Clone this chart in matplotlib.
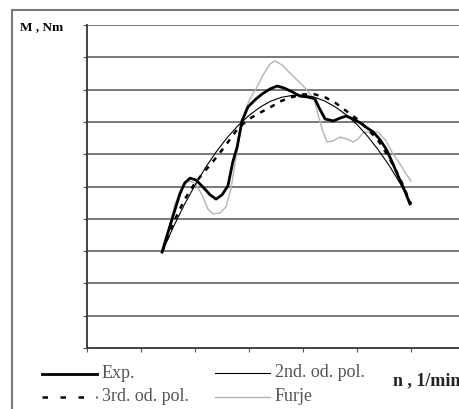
import matplotlib
matplotlib.use("Agg")
import matplotlib.pyplot as plt
from matplotlib.patches import Rectangle
from matplotlib.lines import Line2D

plt.rcParams['font.family'] = ['Liberation Serif', 'DejaVu Serif']

# measured torque (Exp.)
n_exp = [695, 740, 785, 860, 905, 955, 1010, 1075, 1140, 1195, 1250, 1305, 1350,
         1390, 1435, 1490, 1555, 1620, 1695, 1760, 1825, 1900, 1970, 2045, 2110,
         2155, 2205, 2280, 2345, 2400, 2465, 2530, 2595, 2650, 2715, 2770, 2825,
         2880, 2935, 2990]
m_exp = [29.7, 34.7, 39.6, 47.7, 51.1, 52.6, 52.0, 49.8, 47.4, 46.1, 47.4, 50.2,
         57.6, 62.2, 70.3, 74.6, 76.8, 78.6, 80.2, 81.1, 80.5, 79.3, 78.0, 77.7,
         77.1, 74.0, 70.9, 70.3, 71.2, 71.8, 70.9, 69.7, 68.1, 66.9, 64.4, 61.6,
         57.6, 53.3, 49.2, 44.6]

# polynomial approximations
n_pol = [700, 800, 900, 1000, 1100, 1200, 1300, 1400, 1500, 1600, 1700, 1800,
         1900, 2000, 2100, 2200, 2300, 2400, 2500, 2600, 2700, 2800, 2900, 3000]
m_pol2 = [30.1, 37.5, 44.3, 50.4, 56.0, 60.9, 65.2, 68.9, 72.0, 74.5, 76.4, 77.6,
          78.2, 78.3, 77.7, 76.5, 74.6, 72.2, 69.2, 65.5, 61.2, 56.4, 50.9, 44.8]
m_pol3 = [30.0, 38.7, 45.8, 51.1, 55.1, 59.1, 63.5, 68.1, 70.9, 72.8, 74.6, 76.5,
          77.7, 78.5, 78.6, 77.7, 75.9, 73.4, 70.9, 67.8, 64.1, 58.8, 52.3, 44.6]

# Fourier approximation (Furje)
n_fur = [694, 750, 815, 880, 935, 1000, 1065, 1120, 1167, 1231, 1287, 1333, 1370,
         1417, 1463, 1509, 1574, 1630, 1694, 1741, 1806, 1880, 1954, 2028, 2102,
         2139, 2176, 2222, 2278, 2343, 2407, 2463, 2509, 2556, 2620, 2694, 2769,
         2833, 2898, 2954, 3000]
m_fur = [29.7, 36.2, 44.6, 49.8, 51.7, 51.1, 47.4, 43.0, 41.5, 41.8, 43.7, 49.2,
         57.0, 66.3, 73.4, 77.1, 80.8, 84.5, 87.9, 88.9, 87.6, 85.1, 82.7, 80.2,
         77.1, 72.4, 67.8, 63.8, 64.1, 65.3, 64.7, 63.8, 64.7, 66.6, 66.9, 66.9,
         64.1, 60.1, 57.0, 53.9, 51.7]

x_ticks = [0, 500, 1000, 1500, 2000, 2500, 3000, 3500]
y_ticks = [0, 10, 20, 30, 40, 50, 60, 70, 80, 90, 100]
labels = ['Exp.', '3rd. od. pol.', '2nd. od. pol.', 'Furje']

W, H = 459, 410
fig = plt.figure(figsize=(W / 100, H / 100), dpi=100)

# outer frame (cropped on the right and bottom)
fig.patches.append(Rectangle((12 / W, -0.2), 1.2, 1.2 - 11 / H,
                             transform=fig.transFigure, fill=False,
                             edgecolor='#7a7a7a', linewidth=1.5))

ax = fig.add_axes([87 / W, 61 / H, 378 / W, 323 / H])
ax.set_xlim(0, 3500)
ax.set_ylim(0, 100)

for y in y_ticks[1:]:
    ax.axhline(y, color='#6e6e6e', linewidth=1.3, zorder=1)

l_fur, = ax.plot(n_fur, m_fur, color='#b4b4b4', linewidth=1.0, zorder=2)
l_pol2, = ax.plot(n_pol, m_pol2, color='black', linewidth=0.8, zorder=3)
l_pol3, = ax.plot(n_pol, m_pol3, color='black', linewidth=1.8,
                  linestyle=(0, (2.0, 2.6)), zorder=3)
l_exp, = ax.plot(n_exp, m_exp, color='black', linewidth=2.0, zorder=4)

ax.set_xticks(x_ticks)
ax.set_yticks(y_ticks)
ax.set_xticklabels([])
ax.set_yticklabels([])
ax.tick_params(axis='both', direction='out', length=3, width=0.8, color='#555555')
for s in ['top', 'right']:
    ax.spines[s].set_visible(False)
for s in ['left', 'bottom']:
    ax.spines[s].set_color('#333333')
    ax.spines[s].set_linewidth(1.3)

fig.text(20 / W, 1 - 27 / H, 'M , Nm', fontsize=9.5, fontweight='bold',
         va='center', ha='left')
fig.text(393 / W, 1 - 381 / H, 'n , 1/min', fontsize=13, fontweight='bold',
         va='center', ha='left', color='#222222')

# legend, two columns drawn by hand below the axes
leg_pos = [(42, 375), (42, 398), (215, 374), (215, 398)]
leg_styles = ['-', (0, (2.2, 5.0)), '-', '-']
for line, lab, (px, py), ls in zip([l_exp, l_pol3, l_pol2, l_fur], labels,
                                   leg_pos, leg_styles):
    fig.add_artist(Line2D([px / W, (px + 55) / W], [1 - py / H, 1 - py / H],
                          transform=fig.transFigure, color=line.get_color(),
                          linewidth=line.get_linewidth(), linestyle=ls))
    fig.text((px + 60) / W, 1 - (py - 1) / H, lab, fontsize=13,
             color='#555555', va='center', ha='left')

fig.savefig('out.png', dpi=100)
